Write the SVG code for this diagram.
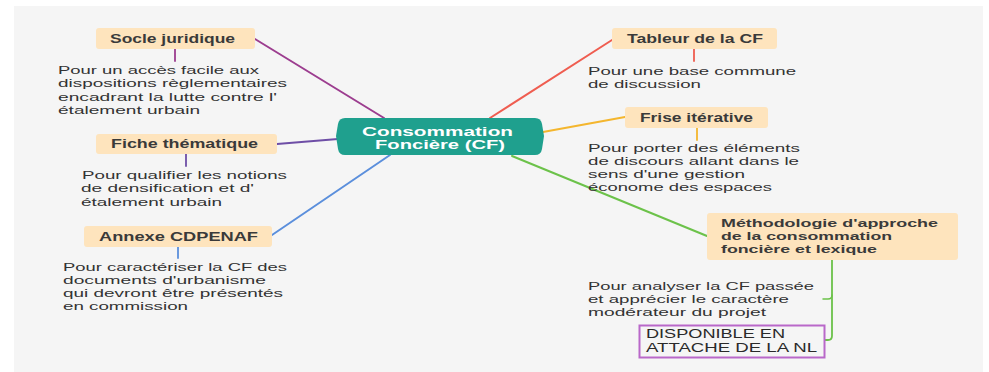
<svg xmlns="http://www.w3.org/2000/svg" width="989" height="372" viewBox="0 0 989 372">
<style>
.bg{fill:#f5f5f5}
.box{fill:#fee4bd}
.ttl{font-family:"Liberation Sans",Arial,sans-serif;font-weight:700;font-size:12px;fill:#3a3a3a}
.mt{font-family:"Liberation Sans",Arial,sans-serif;font-weight:700;font-size:11.3px;fill:#3a3a3a}
.dsc{font-family:"Liberation Sans",Arial,sans-serif;font-size:11.3px;fill:#333333}
.ctr{font-family:"Liberation Sans",Arial,sans-serif;font-weight:700;font-size:12.5px;fill:#ffffff}
.dispo{font-family:"Liberation Sans",Arial,sans-serif;font-size:12px;fill:#2a2a2a}
.con{fill:none;stroke-linecap:round}
</style>
<rect width="989" height="372" fill="#ffffff"/>
<rect class="bg" x="14" y="6" width="969" height="366"/>

<g id="connectors">
  <line class="con" x1="255" y1="39" x2="384" y2="118" stroke="#9c3d8f" stroke-width="2"/>
  <line class="con" x1="277" y1="144" x2="338" y2="139" stroke="#6e4ea6" stroke-width="2.2"/>
  <line class="con" x1="272" y1="235" x2="390" y2="155" stroke="#5b8fdc" stroke-width="2"/>
  <line class="con" x1="612" y1="40" x2="490" y2="118" stroke="#ef5d50" stroke-width="2"/>
  <line class="con" x1="625" y1="117" x2="543" y2="132" stroke="#f4b62e" stroke-width="2.2"/>
  <line class="con" x1="707" y1="236" x2="512" y2="156" stroke="#6cc24a" stroke-width="2"/>
  <line class="con" x1="175" y1="49" x2="175" y2="61" stroke="#9c3d8f" stroke-width="1.8"/>
  <line class="con" x1="186" y1="154" x2="186" y2="166" stroke="#6e4ea6" stroke-width="1.8"/>
  <line class="con" x1="178" y1="247" x2="178" y2="258" stroke="#5b8fdc" stroke-width="1.8"/>
  <line class="con" x1="694" y1="49" x2="694" y2="61" stroke="#ef5d50" stroke-width="1.8"/>
  <line class="con" x1="697" y1="128" x2="697" y2="140" stroke="#f4b62e" stroke-width="1.8"/>
  <path class="con" d="M832,260 V336 Q832,340 828,340 H825" stroke="#6cc24a" stroke-width="1.8"/>
  <path class="con" d="M832,295 Q832,299 828,299 H823" stroke="#6cc24a" stroke-width="1.5"/>
</g>

<g id="center">
  <path d="M345,118 L535,118 Q541,118 542,124 L544,136 L542,149 Q541,155 535,155 L345,155 Q339,155 338,149 L336,136 L338,124 Q339,118 345,118 Z" fill="#1fa08e"/>
  <text class="ctr" x="362" y="135.5" textLength="151" lengthAdjust="spacingAndGlyphs">Consommation</text>
  <text class="ctr" x="375" y="149" textLength="130" lengthAdjust="spacingAndGlyphs">Foncière (CF)</text>
</g>

<g id="socle">
  <rect class="box" x="96" y="28" width="159" height="21" rx="3"/>
  <text class="ttl" x="110" y="43" textLength="125" lengthAdjust="spacingAndGlyphs">Socle juridique</text>
  <text class="dsc" x="58" y="74" textLength="201" lengthAdjust="spacingAndGlyphs">Pour un accès facile aux</text>
  <text class="dsc" x="58" y="87.3" textLength="229" lengthAdjust="spacingAndGlyphs">dispositions règlementaires</text>
  <text class="dsc" x="58" y="100.6" textLength="219" lengthAdjust="spacingAndGlyphs">encadrant la lutte contre l'</text>
  <text class="dsc" x="58" y="114" textLength="142" lengthAdjust="spacingAndGlyphs">étalement urbain</text>
</g>

<g id="fiche">
  <rect class="box" x="96" y="134" width="181" height="20" rx="3"/>
  <text class="ttl" x="111" y="148" textLength="147" lengthAdjust="spacingAndGlyphs">Fiche thématique</text>
  <text class="dsc" x="82" y="178.5" textLength="205" lengthAdjust="spacingAndGlyphs">Pour qualifier les notions</text>
  <text class="dsc" x="81" y="192" textLength="173" lengthAdjust="spacingAndGlyphs">de densification et d'</text>
  <text class="dsc" x="81" y="205.5" textLength="141" lengthAdjust="spacingAndGlyphs">étalement urbain</text>
</g>

<g id="annexe">
  <rect class="box" x="84" y="226" width="188" height="21" rx="3"/>
  <text class="ttl" x="99" y="241" textLength="159" lengthAdjust="spacingAndGlyphs">Annexe CDPENAF</text>
  <text class="dsc" x="63" y="271" textLength="224" lengthAdjust="spacingAndGlyphs">Pour caractériser la CF des</text>
  <text class="dsc" x="63" y="284" textLength="203" lengthAdjust="spacingAndGlyphs">documents d'urbanisme</text>
  <text class="dsc" x="63" y="297" textLength="220" lengthAdjust="spacingAndGlyphs">qui devront être présentés</text>
  <text class="dsc" x="63" y="310.2" textLength="125" lengthAdjust="spacingAndGlyphs">en commission</text>
</g>

<g id="tableur">
  <rect class="box" x="612" y="28" width="165" height="21" rx="3"/>
  <text class="ttl" x="627" y="43" textLength="136" lengthAdjust="spacingAndGlyphs">Tableur de la CF</text>
  <text class="dsc" x="588" y="75" textLength="208" lengthAdjust="spacingAndGlyphs">Pour une base commune</text>
  <text class="dsc" x="588" y="88" textLength="113" lengthAdjust="spacingAndGlyphs">de discussion</text>
</g>

<g id="frise">
  <rect class="box" x="625" y="107" width="143" height="21" rx="3"/>
  <text class="ttl" x="640" y="122" textLength="113" lengthAdjust="spacingAndGlyphs">Frise itérative</text>
  <text class="dsc" x="588" y="151.5" textLength="212" lengthAdjust="spacingAndGlyphs">Pour porter des éléments</text>
  <text class="dsc" x="588" y="164.5" textLength="211" lengthAdjust="spacingAndGlyphs">de discours allant dans le</text>
  <text class="dsc" x="588" y="177.5" textLength="157" lengthAdjust="spacingAndGlyphs">sens d'une gestion</text>
  <text class="dsc" x="588" y="190.5" textLength="184" lengthAdjust="spacingAndGlyphs">économe des espaces</text>
</g>

<g id="methodologie">
  <rect class="box" x="707" y="213" width="251" height="47" rx="3"/>
  <text class="mt" x="721" y="226.5" textLength="217" lengthAdjust="spacingAndGlyphs">Méthodologie d'approche</text>
  <text class="mt" x="721" y="239.5" textLength="171" lengthAdjust="spacingAndGlyphs">de la consommation</text>
  <text class="mt" x="721" y="252.5" textLength="156" lengthAdjust="spacingAndGlyphs">foncière et lexique</text>
  <text class="dsc" x="588" y="290" textLength="226" lengthAdjust="spacingAndGlyphs">Pour analyser la CF passée</text>
  <text class="dsc" x="588" y="303" textLength="201" lengthAdjust="spacingAndGlyphs">et apprécier le caractère</text>
  <text class="dsc" x="588" y="316" textLength="178" lengthAdjust="spacingAndGlyphs">modérateur du projet</text>
</g>

<g id="disponible">
  <rect x="639.5" y="325.5" width="185" height="32" fill="none" stroke="#b968c9" stroke-width="2"/>
  <text class="dispo" x="646" y="338" textLength="139" lengthAdjust="spacingAndGlyphs">DISPONIBLE EN</text>
  <text class="dispo" x="646" y="351.5" textLength="171" lengthAdjust="spacingAndGlyphs">ATTACHE DE LA NL</text>
</g>
</svg>
